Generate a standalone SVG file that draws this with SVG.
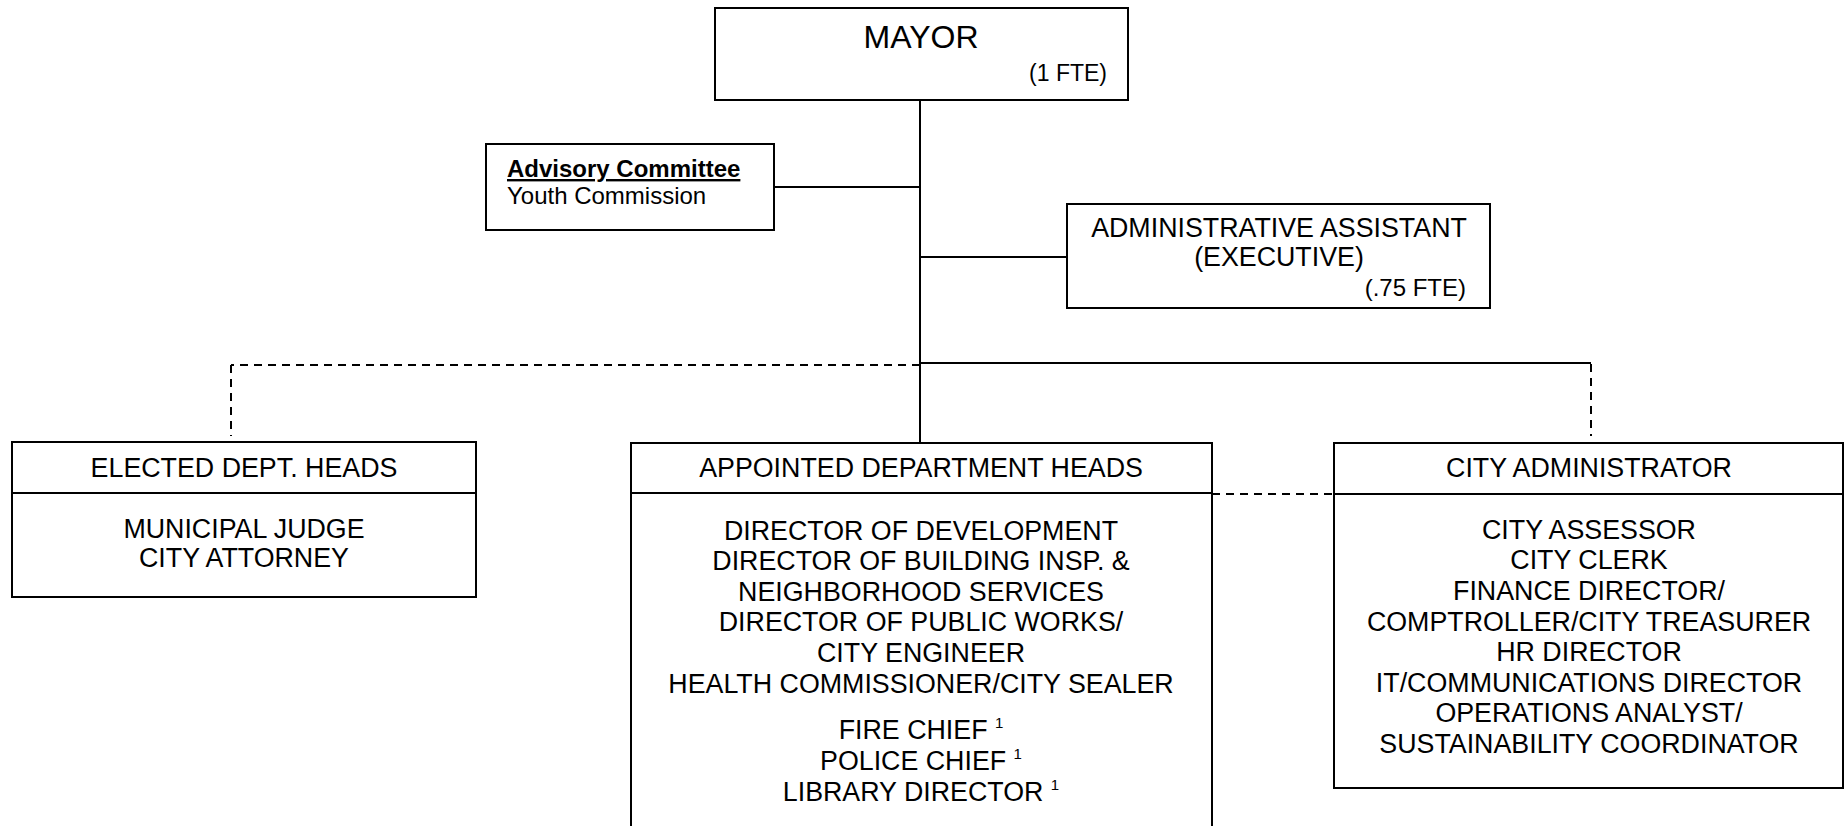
<svg xmlns="http://www.w3.org/2000/svg" width="1848" height="826" viewBox="0 0 1848 826">
<style>
  .box { fill: #fff; stroke: #000; stroke-width: 2; }
  .ln { stroke: #000; stroke-width: 2; fill: none; }
  .dash { stroke: #000; stroke-width: 2; fill: none; stroke-dasharray: 8 6; }
  text { font-family: "Liberation Sans", Arial, sans-serif; font-size: 26.8px; fill: #000; }
  .c { text-anchor: middle; }
  .sup { font-size: 15px; }
</style>
<rect width="1848" height="826" fill="#fff"/>
<g id="connectors">
  <line class="ln" x1="920" y1="100" x2="920" y2="443"/>
  <line class="ln" x1="774" y1="187" x2="920" y2="187"/>
  <line class="ln" x1="920" y1="257" x2="1067" y2="257"/>
  <line class="ln" x1="920" y1="363" x2="1591" y2="363"/>
  <line class="dash" x1="1591" y1="364" x2="1591" y2="436"/>
  <line class="dash" x1="920" y1="365" x2="231" y2="365"/>
  <line class="dash" x1="231" y1="365" x2="231" y2="436"/>
  <line class="dash" x1="1212" y1="494" x2="1398" y2="494"/>
</g>
<g id="mayor">
  <rect class="box" x="715" y="8" width="413" height="92"/>
  <text class="c" x="921" y="48" style="font-size:32px">MAYOR</text>
  <text x="1107" y="81" style="font-size:23px;text-anchor:end">(1 FTE)</text>
</g>
<g id="advisory">
  <rect class="box" x="486" y="144" width="288" height="86"/>
  <text x="507" y="177" style="font-size:24px;font-weight:bold;text-decoration:underline">Advisory Committee</text>
  <text x="507" y="204" style="font-size:24px">Youth Commission</text>
</g>
<g id="admin-assistant">
  <rect class="box" x="1067" y="204" width="423" height="104"/>
  <text class="c" x="1279" y="237">ADMINISTRATIVE ASSISTANT</text>
  <text class="c" x="1279" y="266">(EXECUTIVE)</text>
  <text x="1466" y="296" style="font-size:24px;text-anchor:end">(.75 FTE)</text>
</g>
<g id="elected">
  <rect class="box" x="12" y="442" width="464" height="155"/>
  <line class="ln" x1="12" y1="493" x2="476" y2="493"/>
  <text class="c" x="244" y="477">ELECTED DEPT. HEADS</text>
  <text class="c" x="244" y="538">MUNICIPAL JUDGE</text>
  <text class="c" x="244" y="567">CITY ATTORNEY</text>
</g>
<g id="appointed">
  <rect class="box" x="631" y="443" width="581" height="400"/>
  <line class="ln" x1="631" y1="493" x2="1212" y2="493"/>
  <text class="c" x="921" y="477">APPOINTED DEPARTMENT HEADS</text>
  <text class="c" x="921" y="540">DIRECTOR OF DEVELOPMENT</text>
  <text class="c" x="921" y="570">DIRECTOR OF BUILDING INSP. &amp;</text>
  <text class="c" x="921" y="601">NEIGHBORHOOD SERVICES</text>
  <text class="c" x="921" y="631">DIRECTOR OF PUBLIC WORKS/</text>
  <text class="c" x="921" y="662">CITY ENGINEER</text>
  <text class="c" x="921" y="693">HEALTH COMMISSIONER/CITY SEALER</text>
  <text class="c" x="921" y="739">FIRE CHIEF <tspan class="sup" dy="-11">1</tspan></text>
  <text class="c" x="921" y="770">POLICE CHIEF <tspan class="sup" dy="-11">1</tspan></text>
  <text class="c" x="921" y="801">LIBRARY DIRECTOR <tspan class="sup" dy="-11">1</tspan></text>
</g>
<g id="city-administrator">
  <rect class="box" x="1334" y="443" width="509" height="345"/>
  <line class="ln" x1="1334" y1="494" x2="1843" y2="494"/>
  <text class="c" x="1589" y="477">CITY ADMINISTRATOR</text>
  <text class="c" x="1589" y="539">CITY ASSESSOR</text>
  <text class="c" x="1589" y="569">CITY CLERK</text>
  <text class="c" x="1589" y="600">FINANCE DIRECTOR/</text>
  <text class="c" x="1589" y="631">COMPTROLLER/CITY TREASURER</text>
  <text class="c" x="1589" y="661">HR DIRECTOR</text>
  <text class="c" x="1589" y="692">IT/COMMUNICATIONS DIRECTOR</text>
  <text class="c" x="1589" y="722">OPERATIONS ANALYST/</text>
  <text class="c" x="1589" y="753">SUSTAINABILITY COORDINATOR</text>
</g>
</svg>
